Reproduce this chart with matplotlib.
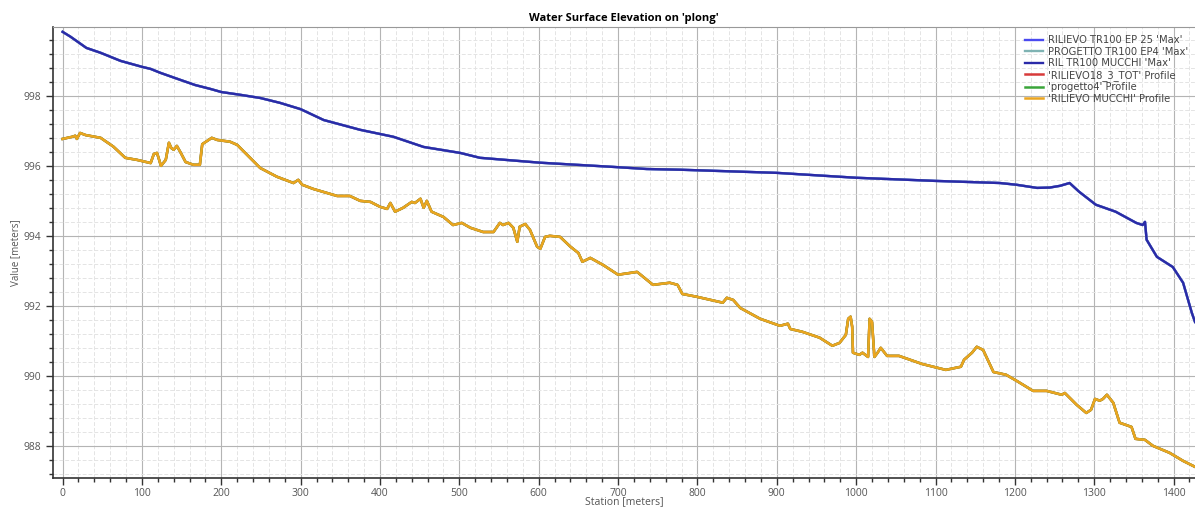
import numpy as np
import matplotlib
matplotlib.use("Agg")
from matplotlib import pyplot as plt
from matplotlib.ticker import MultipleLocator

plt.rcParams['font.family'] = ['Open Sans', 'DejaVu Sans']

# water surface elevation (max) along the reach
wse_station = [0, 10, 30, 48, 73, 100, 111, 123, 148, 167, 186, 200, 224, 249, 274,
               300, 329, 375, 417, 455, 501, 526, 602, 694, 736, 778, 900, 1000,
               1100, 1181, 1202, 1228, 1244, 1257, 1269, 1281, 1302, 1327, 1353,
               1361, 1364, 1366, 1379, 1399, 1412, 1423, 1427]
wse_value = [999.83, 999.69, 999.37, 999.23, 999.0, 998.83, 998.77, 998.66, 998.46,
             998.31, 998.2, 998.11, 998.03, 997.94, 997.8, 997.62, 997.31, 997.03,
             996.83, 996.54, 996.37, 996.23, 996.09, 995.97, 995.91, 995.89, 995.8,
             995.66, 995.57, 995.51, 995.46, 995.37, 995.38, 995.43, 995.51, 995.26,
             994.89, 994.69, 994.37, 994.31, 994.4, 993.89, 993.4, 993.11, 992.66,
             991.8, 991.54]

# ground profile
prof_station = [0, 12, 16, 18, 22, 29, 48, 64, 79, 94, 111, 115, 119, 124, 130, 134,
                137, 140, 144, 149, 155, 165, 173, 176, 188, 195, 211, 220, 249, 270,
                291, 297, 302, 316, 346, 362, 375, 388, 400, 409, 413, 419, 429, 440,
                444, 451, 455, 459, 465, 480, 492, 503, 514, 530, 543, 551, 555, 562,
                568, 573, 576, 583, 589, 598, 602, 608, 614, 627, 640, 650, 655, 665,
                681, 700, 724, 744, 765, 775, 781, 799, 832, 837, 845, 854, 879, 904,
                914, 917, 932, 954, 970, 979, 987, 990, 993, 995, 996, 1004, 1008,
                1015, 1017, 1020, 1023, 1027, 1031, 1039, 1054, 1083, 1113, 1132, 1136,
                1146, 1152, 1160, 1173, 1189, 1202, 1223, 1240, 1259, 1263, 1278, 1290,
                1296, 1301, 1307, 1311, 1316, 1324, 1332, 1347, 1352, 1364, 1374, 1395,
                1412, 1427]
prof_value = [996.77, 996.83, 996.86, 996.77, 996.94, 996.88, 996.8, 996.55, 996.23,
              996.17, 996.08, 996.34, 996.37, 996.0, 996.17, 996.66, 996.51, 996.46,
              996.57, 996.37, 996.11, 996.03, 996.03, 996.62, 996.8, 996.74, 996.69,
              996.6, 995.94, 995.69, 995.51, 995.6, 995.46, 995.34, 995.14, 995.14,
              995.0, 994.97, 994.83, 994.77, 994.94, 994.69, 994.8, 994.97, 994.94,
              995.06, 994.8, 995.0, 994.69, 994.54, 994.31, 994.37, 994.23, 994.11,
              994.11, 994.37, 994.31, 994.37, 994.23, 993.83, 994.26, 994.34, 994.17,
              993.69, 993.63, 993.97, 994.0, 993.97, 993.69, 993.51, 993.26, 993.37,
              993.17, 992.89, 992.97, 992.6, 992.66, 992.6, 992.34, 992.26, 992.09,
              992.23, 992.17, 991.94, 991.63, 991.43, 991.49, 991.34, 991.26, 991.09,
              990.86, 990.94, 991.17, 991.63, 991.69, 991.4, 990.66, 990.6, 990.66,
              990.54, 991.63, 991.54, 990.54, 990.66, 990.8, 990.57, 990.57, 990.34,
              990.17, 990.26, 990.46, 990.66, 990.83, 990.74, 990.11, 990.03, 989.86,
              989.57, 989.57, 989.46, 989.51, 989.17, 988.94, 989.03, 989.34, 989.29,
              989.34, 989.46, 989.23, 988.66, 988.54, 988.2, 988.17, 988.0, 987.8,
              987.57, 987.4]

wse_labels = ["RILIEVO TR100 EP 25 'Max'", "PROGETTO TR100 EP4 'Max'", "RIL TR100 MUCCHI 'Max'"]
wse_colors = ["#4a4af0", "#7fb3b3", "#2a2aa8"]
prof_labels = ["'RILIEVO18_3_TOT' Profile", "'progetto4' Profile", "'RILIEVO MUCCHI' Profile"]
prof_colors = ["#d83a3a", "#3aa53a", "#eba520"]

fig = plt.figure(figsize=(11.95, 5.08), dpi=100)
ax = fig.add_axes([0.0444, 0.059, 0.9556, 0.888])

for lab, col in zip(wse_labels, wse_colors):
    ax.plot(wse_station, wse_value, color=col, lw=1.7, label=lab)
for lab, col in zip(prof_labels, prof_colors):
    ax.plot(prof_station, prof_value, color=col, lw=1.8, label=lab)

ax.set_xlim(-12, 1427)
ax.set_ylim(987.08, 999.97)
ax.xaxis.set_major_locator(MultipleLocator(100))
ax.xaxis.set_minor_locator(MultipleLocator(20))
ax.yaxis.set_major_locator(MultipleLocator(2))
ax.yaxis.set_minor_locator(MultipleLocator(0.4))
ax.grid(which='major', color='#b4b4b4', lw=0.8)
ax.grid(which='minor', color='#e4e4e4', lw=0.7, ls=(0, (4, 2)))
ax.set_axisbelow(True)
ax.tick_params(which='major', direction='out', length=5, width=1, colors='#333333',
               labelcolor='#555555', labelsize=7.5)
ax.tick_params(axis='x', which='major', pad=2)
ax.tick_params(which='minor', direction='out', length=3, width=1, colors='#333333')
for s in ['left', 'bottom']:
    ax.spines[s].set_color('#333333')
    ax.spines[s].set_linewidth(1.2)
ax.spines['top'].set_color('#999999')
ax.spines['right'].set_visible(False)

ax.set_title("Water Surface Elevation on 'plong'", fontsize=8, fontweight='bold', pad=4)
ax.set_xlabel("Station [meters]", fontsize=7.5, color='#555555')
ax.xaxis.set_label_coords(0.5, -0.041)
ax.set_ylabel("Value [meters]", fontsize=7, color='#555555', labelpad=2)

leg = ax.legend(loc='upper right', bbox_to_anchor=(1.0, 0.997), frameon=False,
                prop={'family': 'DejaVu Sans', 'size': 7.2}, handlelength=1.8,
                labelspacing=0.15, handletextpad=0.5, borderaxespad=0.3)
for t in leg.get_texts():
    t.set_color('#444444')

fig.savefig("out.png", dpi=100)
